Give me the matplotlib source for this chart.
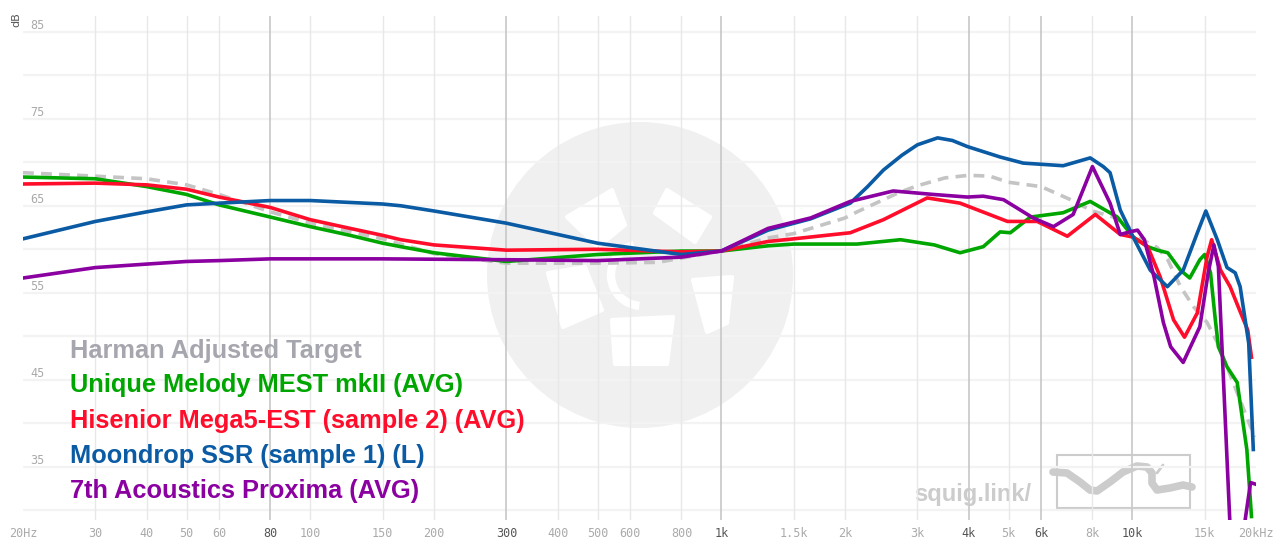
import matplotlib.pyplot as plt
from matplotlib.patches import Arc, Circle, Polygon, Rectangle
from matplotlib.transforms import blended_transform_factory, offset_copy


# frequency responses (Hz, dB)
target_f = [20, 30, 40, 50, 60, 80, 100, 150, 200, 300, 500, 700, 1000, 1300,
            1500, 2000, 2140, 2700, 3000, 3500, 4000, 4500, 5000, 6000, 7000,
            8000, 9000, 9700, 10400, 11500, 12200, 13100, 14100, 15200, 16100,
            17600, 19400, 20000]
target_db = [68.8, 68.4, 68.1, 67.4, 66.3, 64.3, 63.0, 61.2, 59.5, 58.4, 58.4,
             58.5, 59.8, 61.3, 61.8, 63.6, 64.3, 66.5, 67.3, 68.2, 68.5, 68.4,
             67.7, 67.2, 65.8, 64.4, 63.7, 62.8, 61.3, 60.2, 58.8, 55.7, 53.4,
             51.6, 49.3, 44.7, 39.6, 38.5]

mest_f = [20, 30, 40, 50, 60, 80, 100, 125, 150, 166, 200, 300, 500, 800,
          1000, 1300, 1500, 2140, 2730, 3300, 3810, 4340, 4770, 5050, 5650,
          6790, 7900, 9200, 10050, 10900, 11500, 12200, 13100, 13800, 14600,
          15000, 15500, 15900, 16200, 17000, 18000, 19000, 19500]
mest_db = [68.3, 68.1, 67.2, 66.3, 65.1, 63.7, 62.6, 61.6, 60.7, 60.3, 59.6,
           58.6, 59.4, 59.8, 59.8, 60.4, 60.6, 60.6, 61.1, 60.5, 59.6, 60.3,
           62.0, 61.9, 63.7, 64.2, 65.5, 63.7, 61.4, 60.3, 59.9, 59.6, 57.6,
           56.7, 58.8, 59.4, 57.3, 52.2, 48.8, 46.5, 44.7, 37.0, 29.3]

mega5_f = [20, 30, 40, 50, 60, 80, 100, 125, 150, 166, 200, 300, 500, 800,
           1000, 1300, 1500, 2060, 2480, 3170, 3810, 4970, 5870, 6950, 8130,
           9350, 10050, 10900, 11700, 12600, 13400, 14400, 15200, 15600,
           16400, 17300, 18100, 19100, 19500]
mega5_db = [67.5, 67.6, 67.4, 66.9, 66.0, 64.8, 63.4, 62.4, 61.6, 61.1, 60.5,
            59.9, 60.0, 59.7, 59.8, 60.9, 61.2, 61.9, 63.4, 65.9, 65.3, 63.2,
            63.2, 61.5, 64.0, 61.7, 61.4, 60.3, 56.8, 51.9, 49.9, 52.7, 59.1,
            61.1, 57.6, 55.7, 53.4, 50.7, 47.6]

ssr_f = [20, 30, 40, 50, 60, 80, 100, 150, 166, 200, 300, 500, 800, 1000,
         1300, 1650, 2060, 2270, 2480, 2750, 3000, 3360, 3650, 3970, 4770,
         5430, 6790, 7900, 8500, 8830, 9350, 10050, 11060, 12170, 13300,
         14400, 15100, 16100, 17000, 17800, 18300, 19200, 19700]
ssr_db = [61.2, 63.2, 64.3, 65.1, 65.3, 65.6, 65.6, 65.2, 65.0, 64.4, 63.0,
          60.7, 59.4, 59.8, 62.2, 63.5, 65.3, 67.2, 69.1, 70.8, 72.0, 72.8,
          72.5, 71.8, 70.6, 69.9, 69.6, 70.5, 69.5, 68.8, 64.5, 61.4, 57.6,
          55.7, 57.6, 61.9, 64.4, 61.1, 57.9, 57.3, 55.7, 49.2, 37.0]

proxima_f = [20, 30, 40, 50, 60, 80, 100, 150, 300, 500, 800, 1000, 1300,
             1650, 2060, 2620, 3280, 3970, 4340, 4860, 5740, 6430, 7180, 8000,
             8830, 9350, 9860, 10300, 10700, 11300, 11900, 12400, 13300, 14600,
             15300, 15800, 16200, 16500, 17300, 18000, 18700, 19400, 20000]
proxima_db = [56.7, 57.9, 58.3, 58.6, 58.7, 58.9, 58.9, 58.9, 58.8, 58.7, 59.1,
              59.8, 62.4, 63.6, 65.5, 66.7, 66.3, 66.0, 66.1, 65.7, 63.6, 62.6,
              64.0, 69.5, 65.3, 61.7, 62.0, 62.2, 61.1, 56.8, 51.6, 48.8, 47.0,
              51.1, 57.3, 60.5, 58.0, 49.6, 28.0, 20.0, 28.0, 33.2, 33.0]

names = ["Harman Adjusted Target", "Unique Melody MEST mkII (AVG)",
         "Hisenior Mega5-EST (sample 2) (AVG)", "Moondrop SSR (sample 1) (L)",
         "7th Acoustics Proxima (AVG)"]

x_ticks = [20, 30, 40, 50, 60, 80, 100, 150, 200, 300, 400, 500, 600, 800,
           1000, 1500, 2000, 3000, 4000, 5000, 6000, 8000, 10000, 15000, 20000]
x_labels = ["20Hz", "30", "40", "50", "60", "80", "100", "150", "200", "300",
            "400", "500", "600", "800", "1k", "1.5k", "2k", "3k", "4k", "5k",
            "6k", "8k", "10k", "15k", "20kHz"]
major_ticks = [80, 300, 1000, 4000, 6000, 10000]
y_labels = [85, 75, 65, 55, 45, 35]

GREEN = "#00a600"
RED = "#ff0d2a"
BLUE = "#0a5ba4"
PURPLE = "#8a00a0"
GRAY = "#c4c4c4"

fig = plt.figure(figsize=(12.8, 5.54), dpi=100)

# background layer in pixel units for the watermark
bg = fig.add_axes([0, 0, 1, 1], zorder=0)
bg.set_xlim(0, 1280)
bg.set_ylim(554, 0)
bg.axis("off")
bg.add_patch(Circle((640, 275), 153, color="#f0f0f0", lw=0))
blades = [
    [(567, 217), (612, 190), (625, 225), (598, 247)],
    [(655, 213), (667, 190), (710, 217), (695, 242)],
    [(693, 280), (732, 277), (727, 323), (707, 332)],
    [(612, 320), (673, 317), (667, 364), (615, 364)],
    [(548, 273), (585, 267), (602, 310), (563, 327)],
]
for b in blades:
    bg.add_patch(Polygon(b, closed=True, color="white", lw=3, joinstyle="round"))
bg.add_patch(Arc((642, 275), 62, 62, theta1=95, theta2=255, color="white", lw=6))

# squig.link logo
bg.text(914, 495, "squig.link/", fontsize=17, fontweight="bold",
        family="Liberation Sans", color="#cccccc", va="center")
bg.add_patch(Rectangle((1057, 455), 133, 53, fill=False, ec="#cccccc", lw=1.5))
sq_x = [1053, 1067, 1080, 1090, 1097, 1110, 1123, 1137, 1147, 1152, 1152,
        1157, 1170, 1183, 1192]
sq_y = [472, 473, 482, 490, 491, 482, 472, 466, 467, 473, 483, 490, 488,
        485, 487]
bg.plot(sq_x, sq_y, color="#cccccc", lw=5.5, solid_capstyle="round",
        solid_joinstyle="round")
bg.plot([1157, 1163], [473, 465], color="#cccccc", lw=2, solid_capstyle="round")

ax = fig.add_axes([23 / 1280, 34 / 554, 1233 / 1280, 504 / 554], zorder=1)
ax.set_facecolor("none")
ax.set_xscale("log")
ax.set_xlim(20, 20000)
ax.set_ylim(28.9, 86.8)
for s in ax.spines.values():
    s.set_visible(False)

for db in range(30, 90, 5):
    ax.axhline(db, color="#f3f3f3", lw=1.6, zorder=0)
for f in x_ticks[1:-1]:
    major = f in major_ticks
    ax.axvline(f, color="#cbcbcb" if major else "#e8e8e8",
               lw=1.3 if major else 1, zorder=0)

ax.set_xticks(x_ticks)
ax.set_xticklabels(x_labels)
ax.minorticks_off()
ax.set_yticks([])
ax.tick_params(axis="x", length=0, pad=5, labelsize=8.5)
for lab, f in zip(ax.get_xticklabels(), x_ticks):
    lab.set_family("DejaVu Sans Mono")
    lab.set_color("#555555" if f in major_ticks else "#aaaaaa")

ytr = offset_copy(blended_transform_factory(ax.transAxes, ax.transData),
                  fig=fig, x=0, y=6, units="dots")
for v in y_labels:
    ax.text(0.0057, v, str(v), transform=ytr, fontsize=8.5,
            family="DejaVu Sans Mono", color="#aaaaaa", va="center")
fig.text(16 / 1280, 1 - 20 / 554, "dB", rotation=90, fontsize=8,
         color="#555555", ha="center", va="center")

ax.plot(target_f, target_db, color=GRAY, lw=2.6, ls=(0, (3, 2)), zorder=2)
ax.plot(mest_f, mest_db, color=GREEN, lw=2.6, zorder=3)
ax.plot(mega5_f, mega5_db, color=RED, lw=2.6, zorder=3)
ax.plot(ssr_f, ssr_db, color=BLUE, lw=2.6, zorder=3)
ax.plot(proxima_f, proxima_db, color=PURPLE, lw=2.6, zorder=4)

legend_colors = ["#a6a6ae", GREEN, RED, BLUE, PURPLE]
legend_y = [0.335, 0.268, 0.197, 0.126, 0.057]
for name, c, yy in zip(names, legend_colors, legend_y):
    ax.text(0.038, yy, name, transform=ax.transAxes, fontsize=18.3,
            fontweight="bold", family="Liberation Sans", color=c, va="center")

fig.savefig("out.png", dpi=100)
